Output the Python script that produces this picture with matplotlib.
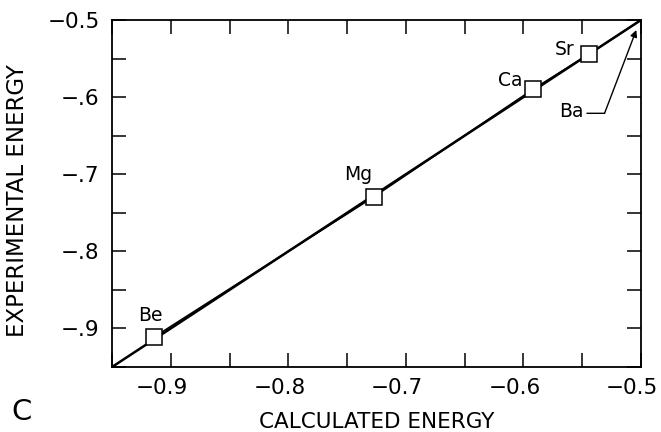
import numpy as np
import matplotlib
matplotlib.use("Agg")
import matplotlib.pyplot as plt
from matplotlib.ticker import MultipleLocator, FixedLocator
from matplotlib.transforms import ScaledTranslation

# data
elements = ["Be", "Mg", "Ca", "Sr", "Ba"]
calc_energy = [-0.914, -0.727, -0.592, -0.544, -0.500]
exp_energy = [-0.911, -0.729, -0.590, -0.544, -0.500]
x_ticks = [-0.9, -0.8, -0.7, -0.6, -0.5]
x_ticklabels = ["\u22120.9", "\u22120.8", "\u22120.7", "\u22120.6", "\u22120.5"]
y_ticks = [-0.9, -0.8, -0.7, -0.6, -0.5]
y_ticklabels = ["\u2212.9", "\u2212.8", "\u2212.7", "\u2212.6", "\u22120.5"]
lims = [-0.95, -0.5]

plt.rcParams["font.family"] = ["DejaVu Sans"]

fig = plt.figure(figsize=(6.61, 4.32), dpi=100)
ax = fig.add_axes([112 / 661, 65 / 432, 529 / 661, 347 / 432])

# y = x reference line and the data line
ax.plot(lims, lims, color="black", lw=1.8)
ax.plot(calc_energy, exp_energy, color="black", lw=1.2)
ax.plot(calc_energy[:4], exp_energy[:4], "s", ms=11, mfc="white", mec="black", mew=1.1)

ax.set_xlim(lims)
ax.set_ylim(lims)
ax.xaxis.set_major_locator(FixedLocator(x_ticks))
ax.yaxis.set_major_locator(FixedLocator(y_ticks))
ax.set_xticklabels(x_ticklabels)
ax.set_yticklabels(y_ticklabels)
ax.xaxis.set_minor_locator(MultipleLocator(0.05))
ax.yaxis.set_minor_locator(MultipleLocator(0.05))
ax.tick_params(which="both", direction="in", top=True, right=True, length=10, width=1.1)
ax.tick_params(which="major", labelsize=15.5)
ax.tick_params(axis="x", pad=8)
ax.tick_params(axis="y", pad=9)
for s in ax.spines.values():
    s.set_linewidth(1.3)
# x tick labels sit a little left of their ticks
shift = ScaledTranslation(-9 / 100, 0, fig.dpi_scale_trans)
for lbl in ax.get_xticklabels():
    lbl.set_transform(lbl.get_transform() + shift)

# element labels
label_pos = {"Be": (-0.917, -0.883), "Mg": (-0.741, -0.700), "Ca": (-0.611, -0.579),
             "Sr": (-0.565, -0.538), "Ba": (-0.559, -0.619)}
for el, (tx, ty) in label_pos.items():
    ax.text(tx, ty, el, fontsize=13.5, ha="center", va="center")

ax.annotate("", xy=(-0.531, -0.621), xytext=(-0.546, -0.621),
            arrowprops=dict(arrowstyle="-", color="black", lw=1, shrinkA=0, shrinkB=0))
ax.annotate("", xy=(-0.504, -0.513), xytext=(-0.531, -0.621),
            arrowprops=dict(arrowstyle="-|>", color="black", lw=1, mutation_scale=10,
                            shrinkA=0, shrinkB=0))

fig.text(377 / 661, 1 - 422 / 432, "CALCULATED ENERGY", fontsize=15.5, ha="center", va="center")
fig.text(18 / 661, 1 - 201 / 432, "EXPERIMENTAL ENERGY", fontsize=16.5, ha="center", va="center",
         rotation=90)
fig.text(22 / 661, 1 - 412 / 432, "C", fontsize=21, ha="center", va="center")

fig.savefig("out.png", dpi=100)
